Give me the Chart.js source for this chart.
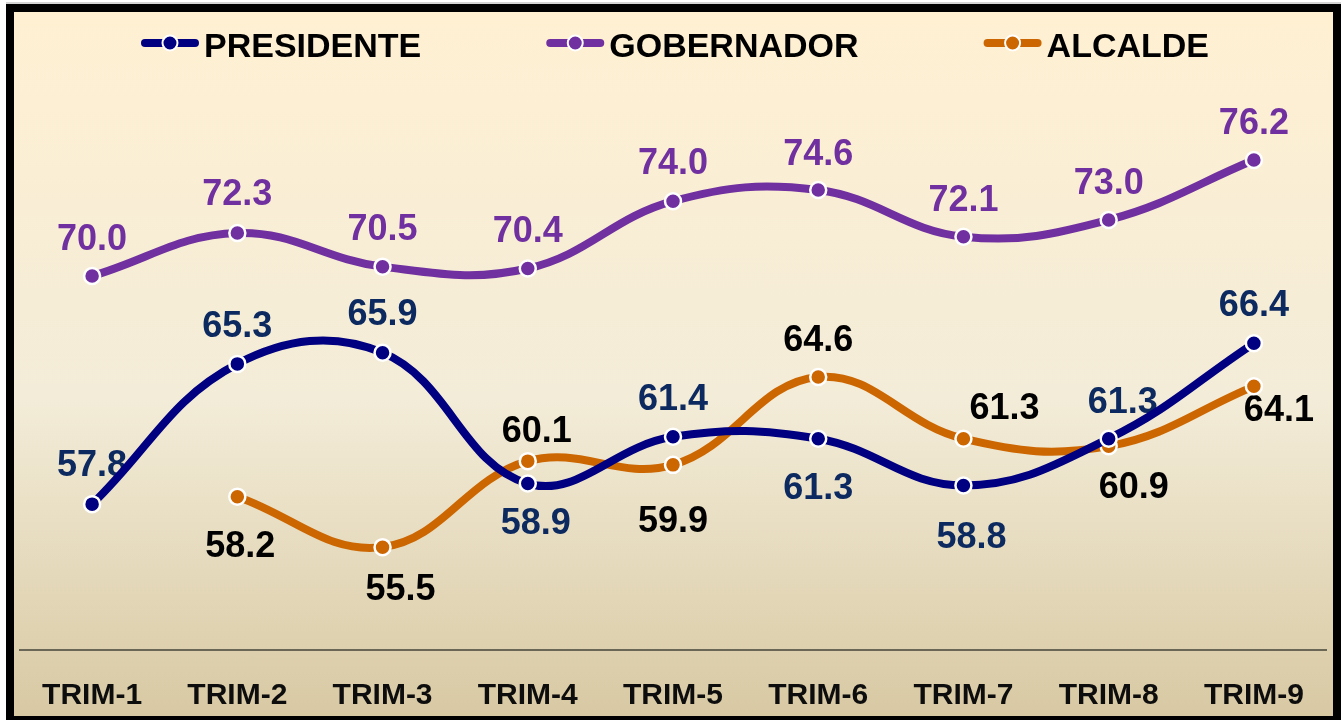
<!DOCTYPE html>
<html>
<head>
<meta charset="utf-8">
<script src="https://cdn.jsdelivr.net/npm/chart.js@4.4.1/dist/chart.umd.min.js"></script>
<style>
  html, body { margin: 0; padding: 0; width: 1342px; height: 720px; overflow: hidden; background: #fff; }
  #frame {
    position: absolute; left: 6px; top: 4px;
    width: 1319px; height: 704px;
    border: 8px solid #000;
    background: linear-gradient(to bottom, #fff0d2 0%, #f3ecd8 55%, #d8c9a3 100%);
    box-shadow: 0 -2px 0 #d4d4d4;
  }
  canvas { display: block; }
</style>
</head>
<body>
<div id="frame"><canvas id="chart" width="1319" height="704"></canvas></div>
<script>
// Trimestres
const labels = ['TRIM-1', 'TRIM-2', 'TRIM-3', 'TRIM-4', 'TRIM-5', 'TRIM-6', 'TRIM-7', 'TRIM-8', 'TRIM-9'];

// Series values
const presidente = [57.8, 65.3, 65.9, 58.9, 61.4, 61.3, 58.8, 61.3, 66.4];
const gobernador = [70.0, 72.3, 70.5, 70.4, 74.0, 74.6, 72.1, 73.0, 76.2];
const alcalde = [null, 58.2, 55.5, 60.1, 59.9, 64.6, 61.3, 60.9, 64.1];

// Data label placement (dx, dy from the point, px)
const presLabelPos = [[0, -41], [0, -40], [0, -41], [8, 37], [0, -40], [0, 47], [8, 50], [14, -39], [0, -40]];
const gobLabelPos = [[0, -39], [0, -41], [0, -40], [0, -40], [0, -40], [0, -38], [0, -39], [0, -39], [0, -39]];
const alcLabelPos = [null, [3, 47], [18, 40], [9, -32], [0, 54], [0, -39], [41, -33], [25, 39], [25, 22]];

const FONT = '"Liberation Sans", Arial, Helvetica, sans-serif';

// Value labels, drawn under the lines
const valueLabels = {
    id: 'valueLabels',
    beforeDatasetsDraw(chart) {
        const ctx = chart.ctx;
        ctx.save();
        ctx.font = 'bold 36px ' + FONT;
        ctx.textAlign = 'center';
        ctx.textBaseline = 'alphabetic';
        chart.data.datasets.forEach((ds, i) => {
            const meta = chart.getDatasetMeta(i);
            meta.data.forEach((pt, j) => {
                const v = ds.data[j];
                if (v == null) return;
                const off = ds.labelPos[j];
                ctx.fillStyle = ds.labelColor;
                ctx.fillText(v.toFixed(1), pt.x + off[0], pt.y + off[1] + 13);
            });
        });
        ctx.restore();
    }
};

// Legend: line with dot marker + bold name
const topLegend = {
    id: 'topLegend',
    afterDraw(chart) {
        const ctx = chart.ctx;
        const markW = 58, gap = 5, space = 125, cy = 31;
        ctx.save();
        ctx.font = 'bold 34px ' + FONT;
        const items = chart.data.datasets.map(ds => ({ ds, w: ctx.measureText(ds.label).width }));
        const total = items.reduce((s, it) => s + markW + gap + it.w, 0) + space * (items.length - 1);
        let x = (chart.chartArea.left + chart.chartArea.right) / 2 - total / 2 + 2;
        items.forEach(it => {
            const col = it.ds.borderColor;
            ctx.strokeStyle = col;
            ctx.lineWidth = 8;
            ctx.lineCap = 'round';
            ctx.beginPath();
            ctx.moveTo(x + 4, cy);
            ctx.lineTo(x + markW - 4, cy);
            ctx.stroke();
            ctx.beginPath();
            ctx.arc(x + markW / 2, cy, 7.5, 0, Math.PI * 2);
            ctx.fillStyle = col;
            ctx.fill();
            ctx.lineWidth = 2;
            ctx.strokeStyle = '#fff';
            ctx.stroke();
            ctx.fillStyle = '#000';
            ctx.textAlign = 'left';
            ctx.textBaseline = 'alphabetic';
            ctx.fillText(it.ds.label, x + markW + gap, 45);
            x += markW + gap + it.w + space;
        });
        ctx.restore();
    }
};

function lineSet(label, data, color, labelColor, labelPos) {
    return {
        label: label,
        data: data,
        borderColor: color,
        backgroundColor: color,
        borderWidth: 8,
        tension: 0.4,
        pointRadius: 8,
        pointBorderWidth: 2.5,
        pointBorderColor: '#fff',
        pointBackgroundColor: color,
        clip: false,
        labelColor: labelColor,
        labelPos: labelPos
    };
}

new Chart(document.getElementById('chart'), {
    type: 'line',
    data: {
        labels: labels,
        datasets: [
            lineSet('PRESIDENTE', presidente, '#000080', '#0c2960', presLabelPos),
            lineSet('GOBERNADOR', gobernador, '#7030a0', '#7030a0', gobLabelPos),
            lineSet('ALCALDE', alcalde, '#cc6600', '#000000', alcLabelPos)
        ]
    },
    options: {
        responsive: false,
        animation: false,
        layout: { autoPadding: false, padding: { top: 77, left: 5.5, right: 6.5, bottom: 0 } },
        plugins: {
            legend: { display: false },
            tooltip: { enabled: false }
        },
        scales: {
            y: {
                display: false,
                min: 50,
                max: 80
            },
            x: {
                offset: true,
                grid: { display: false, drawTicks: false },
                border: { display: true, color: '#6b6757', width: 2 },
                ticks: {
                    color: '#0d0d0d',
                    padding: 28,
                    font: { family: FONT, size: 30, weight: 'bold' }
                },
                afterFit(scale) {
                    scale.height = 66;
                    scale.paddingLeft = 0;
                    scale.paddingRight = 0;
                }
            }
        }
    },
    plugins: [valueLabels, topLegend]
});
</script>
</body>
</html>
